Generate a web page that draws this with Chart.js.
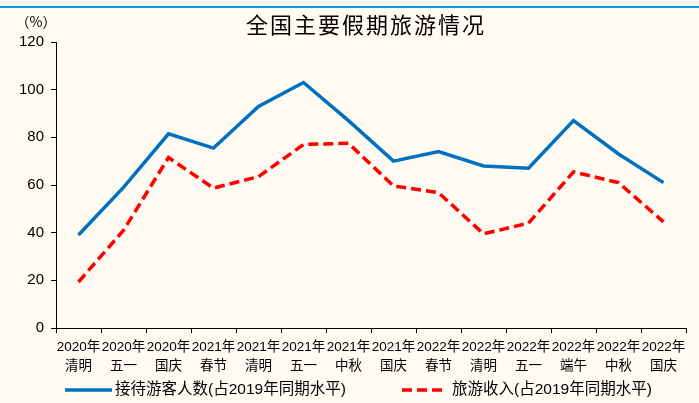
<!DOCTYPE html>
<html>
<head>
<meta charset="utf-8">
<script src="https://cdn.jsdelivr.net/npm/chart.js@4/dist/chart.umd.min.js"></script>
<style>
  html, body { margin: 0; padding: 0; background: #FFFBF2; }
  #wrap { width: 699px; height: 403px; position: relative; }
</style>
</head>
<body>
<div id="wrap"><canvas id="holidayChart" width="699" height="403"></canvas></div>
<script>
// 数据：各假期占2019年同期水平
const years = ['2020年', '2020年', '2020年', '2021年', '2021年', '2021年', '2021年',
               '2021年', '2022年', '2022年', '2022年', '2022年', '2022年', '2022年'];
const holidays = ['清明', '五一', '国庆', '春节', '清明', '五一', '中秋',
                  '国庆', '春节', '清明', '五一', '端午', '中秋', '国庆'];
const visitors = [39, 59, 81.5, 75.5, 93, 103, 87, 70, 74, 68, 67, 87, 73, 61];
const revenue = [19.3, 41, 71.5, 58.7, 63.5, 77, 77.5, 59.6, 56.8, 39.5, 44, 65.5, 61, 44.5];
const seriesNames = ['接待游客人数(占2019年同期水平)', '旅游收入(占2019年同期水平)'];
const yTicks = [0, 20, 40, 60, 80, 100, 120];

const labelFont = '"Liberation Sans", "Noto Sans CJK SC", sans-serif';

// 标题、单位、顶部蓝线和图例（图例手动画，间距跟原图一致）
const decorPlugin = {
    id: 'decor',
    beforeDraw(chart) {
        const ctx = chart.ctx;
        ctx.save();
        ctx.fillStyle = '#FFFBF2';
        ctx.fillRect(0, 0, chart.width, chart.height);
        ctx.strokeStyle = '#00A0E9';
        ctx.lineWidth = 2;
        ctx.beginPath();
        ctx.moveTo(0, 7);
        ctx.lineTo(chart.width, 7);
        ctx.stroke();
        ctx.restore();
    },
    afterDraw(chart) {
        const ctx = chart.ctx;
        ctx.save();
        ctx.fillStyle = '#000';
        ctx.textBaseline = 'middle';
        ctx.textAlign = 'center';
        ctx.font = '22px "Noto Sans CJK SC", sans-serif';
        ctx.letterSpacing = '2px';
        ctx.fillText('全国主要假期旅游情况', 366, 25);
        ctx.letterSpacing = '0px';
        ctx.font = '14px "Noto Sans CJK SC", sans-serif';
        ctx.fillText('（%）', 36, 22);

        // 图例
        const spots = [{ x0: 65, x1: 112, tx: 115 }, { x0: 402, x1: 443, tx: 452 }];
        const ly = 390;
        chart.data.datasets.forEach((ds, i) => {
            const s = spots[i];
            ctx.strokeStyle = ds.borderColor;
            ctx.lineWidth = ds.borderWidth;
            ctx.setLineDash(ds.borderDash || []);
            ctx.beginPath();
            ctx.moveTo(s.x0, ly);
            ctx.lineTo(s.x1, ly);
            ctx.stroke();
            ctx.setLineDash([]);
            ctx.textAlign = 'left';
            ctx.font = '15.5px ' + labelFont;
            ctx.fillStyle = '#000';
            ctx.fillText(ds.label, s.tx, ly);
        });
        ctx.restore();
    }
};

new Chart(document.getElementById('holidayChart'), {
    type: 'line',
    data: {
        labels: years.map((y, i) => [y, holidays[i]]),
        datasets: [{
            label: seriesNames[0],
            data: visitors,
            borderColor: '#0070C0',
            backgroundColor: '#0070C0',
            borderWidth: 3.5,
            pointRadius: 0,
            tension: 0
        }, {
            label: seriesNames[1],
            data: revenue,
            borderColor: '#FF0000',
            backgroundColor: '#FF0000',
            borderWidth: 3.5,
            borderDash: [10, 5],
            pointRadius: 0,
            tension: 0
        }]
    },
    options: {
        responsive: false,
        animation: false,
        devicePixelRatio: 1,
        layout: { padding: { top: 42, left: 0, right: 13, bottom: 0 } },
        plugins: {
            title: { display: false },
            tooltip: { enabled: false },
            legend: { display: false }
        },
        scales: {
            x: {
                offset: true,
                grid: { display: true, drawOnChartArea: false, offset: true, color: '#000', tickLength: 5 },
                border: { color: '#000', width: 1 },
                ticks: {
                    color: '#000',
                    maxRotation: 0,
                    autoSkip: false,
                    padding: 5,
                    font: { family: labelFont, size: 13.5, lineHeight: 1.4 }
                },
                afterFit(scale) { scale.height = 75; }
            },
            y: {
                min: 0,
                max: 120,
                afterBuildTicks(scale) { scale.ticks = yTicks.map(v => ({ value: v })); },
                grid: { display: true, drawOnChartArea: false, color: '#000', tickLength: 5 },
                border: { color: '#000', width: 1 },
                ticks: {
                    color: '#000',
                    padding: 7,
                    font: { family: labelFont, size: 15 }
                },
                afterFit(scale) { scale.width = 56; }
            }
        }
    },
    plugins: [decorPlugin]
});
</script>
</body>
</html>
